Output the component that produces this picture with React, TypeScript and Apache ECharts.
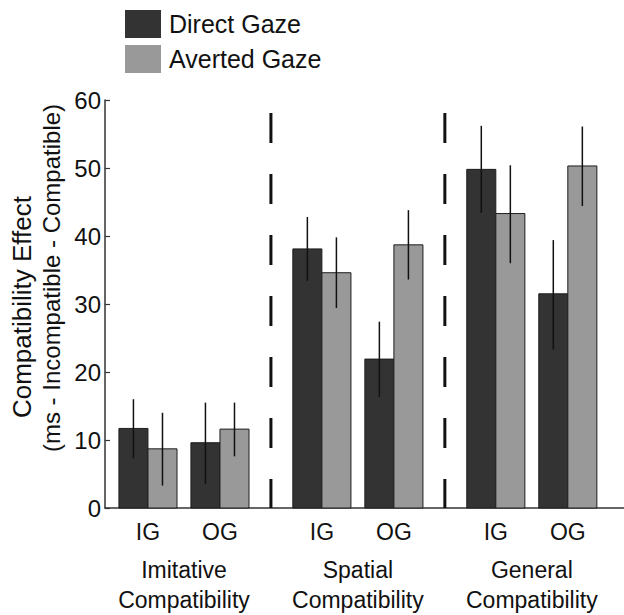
import React, { useEffect, useRef } from "react";
import * as echarts from "echarts";

// ---- data ----
const subLabels = ["IG", "OG", "IG", "OG", "IG", "OG"];
const subPositions = [-0.207, 0.207, 0.793, 1.207, 1.793, 2.207];
const groupLabels = ["Imitative\nCompatibility", "Spatial\nCompatibility", "General\nCompatibility"];
const groupPositions = [0, 1, 2];
const dividerPositions = [0.5, 1.5];

const directMean = [11.7, 9.6, 38.1, 21.9, 49.8, 31.5];
const directLow = [7.3, 3.5, 33.4, 16.3, 43.4, 23.3];
const directHigh = [16.0, 15.5, 42.8, 27.4, 56.2, 39.4];

const avertedMean = [8.7, 11.6, 34.6, 38.7, 43.3, 50.3];
const avertedLow = [3.3, 7.6, 29.4, 33.6, 36.0, 44.4];
const avertedHigh = [14.0, 15.5, 39.8, 43.8, 50.4, 56.1];

const yTicks = [0, 10, 20, 30, 40, 50, 60];

const BAR_W = 0.167;
const X_MIN = -0.454;
const X_MAX = 2.53;
const DIVIDER_TOP = 58.1;

const FONT = "'Liberation Sans', Arial, Helvetica, sans-serif";
const TEXT = "#111111";

function barRender(fill: string) {
  return (params: any, api: any) => {
    const x = api.value(0);
    const v = api.value(1);
    const lo = api.value(2);
    const hi = api.value(3);
    const w = api.size([BAR_W, 0])[0];
    const top = api.coord([x, v]);
    const base = api.coord([x, 0]);
    const pLo = api.coord([x, lo]);
    const pHi = api.coord([x, hi]);
    return {
      type: "group",
      children: [
        {
          type: "rect",
          shape: { x: top[0] - w / 2, y: top[1], width: w, height: base[1] - top[1] },
          style: { fill, stroke: "#1e1e1e", lineWidth: 1 },
        },
        {
          type: "line",
          shape: { x1: pLo[0], y1: pLo[1], x2: pHi[0], y2: pHi[1] },
          style: { stroke: "#111111", lineWidth: 1.5 },
        },
      ],
    };
  };
}

export default function App() {
  const ref = useRef<HTMLDivElement>(null);

  useEffect(() => {
    if (!ref.current) return;
    const chart = echarts.init(ref.current, undefined, { renderer: "svg" });

    const directData = subPositions.map((p, i) => [p - BAR_W / 2, directMean[i], directLow[i], directHigh[i]]);
    const avertedData = subPositions.map((p, i) => [p + BAR_W / 2, avertedMean[i], avertedLow[i], avertedHigh[i]]);

    const findLabel = (v: number, pos: number[], labels: string[]) => {
      for (let i = 0; i < pos.length; i++) if (Math.abs(pos[i] - v) < 1e-6) return labels[i];
      return "";
    };

    chart.setOption({
      animation: false,
      backgroundColor: "#ffffff",
      textStyle: { fontFamily: FONT },
      legend: {
        orient: "vertical",
        left: 120,
        top: 5,
        itemWidth: 36,
        itemHeight: 28,
        itemGap: 7,
        textStyle: { fontSize: 25, color: TEXT, fontFamily: FONT, padding: [0, 0, 0, 3] },
        data: [
          { name: "Direct Gaze", icon: "rect", itemStyle: { color: "#333333", borderWidth: 0 } },
          { name: "Averted Gaze", icon: "rect", itemStyle: { color: "#999999", borderWidth: 0 } },
        ],
      },
      graphic: [
        {
          type: "text",
          x: 22,
          y: 307,
          rotation: Math.PI / 2,
          style: {
            text: "Compatibility Effect",
            fontSize: 26,
            fontFamily: FONT,
            fill: TEXT,
            align: "center",
            verticalAlign: "middle",
          },
        },
        {
          type: "text",
          x: 51,
          y: 278,
          rotation: Math.PI / 2,
          style: {
            text: "(ms - Incompatible - Compatible)",
            fontSize: 24,
            fontFamily: FONT,
            fill: TEXT,
            align: "center",
            verticalAlign: "middle",
          },
        },
      ],
      grid: { left: 105, right: 0, top: 100, bottom: 105, containLabel: false },
      xAxis: [
        {
          type: "value",
          min: X_MIN,
          max: X_MAX,
          axisLine: { show: true, onZero: false, lineStyle: { color: "#333333", width: 1.5 } },
          axisTick: { show: false },
          splitLine: { show: false },
          axisLabel: {
            customValues: subPositions,
            formatter: (v: number) => findLabel(v, subPositions, subLabels),
            fontSize: 23,
            color: TEXT,
            margin: 12,
            fontFamily: FONT,
          },
        },
        {
          type: "value",
          position: "bottom",
          min: X_MIN,
          max: X_MAX,
          axisLine: { show: false, onZero: false },
          axisTick: { show: false },
          splitLine: { show: false },
          axisLabel: {
            customValues: groupPositions,
            formatter: (v: number) => findLabel(v, groupPositions, groupLabels),
            fontSize: 23,
            lineHeight: 30,
            color: TEXT,
            margin: 47,
            fontFamily: FONT,
          },
        },
      ],
      yAxis: {
        type: "value",
        min: 0,
        max: 60,
        interval: 10,
        axisLine: { show: true, onZero: false, lineStyle: { color: "#333333", width: 1.5 } },
        axisTick: { show: true, inside: true, length: 5, lineStyle: { color: "#333333", width: 1.2 } },
        splitLine: { show: false },
        axisLabel: {
          fontSize: 24,
          color: TEXT,
          margin: 4,
          fontFamily: FONT,
          formatter: (v: number) => (yTicks.indexOf(v) >= 0 ? String(v) : ""),
        },
      },
      series: [
        {
          name: "Direct Gaze",
          type: "custom",
          xAxisIndex: 0,
          itemStyle: { color: "#333333" },
          renderItem: barRender("#333333"),
          encode: { x: 0, y: 1 },
          data: directData,
          z: 2,
        },
        {
          name: "Averted Gaze",
          type: "custom",
          xAxisIndex: 0,
          itemStyle: { color: "#999999" },
          renderItem: barRender("#999999"),
          encode: { x: 0, y: 1 },
          data: avertedData,
          z: 2,
        },
        {
          name: "dividers",
          type: "custom",
          xAxisIndex: 0,
          silent: true,
          encode: { x: 0, y: 1 },
          data: dividerPositions.map((p) => [p, DIVIDER_TOP]),
          renderItem: (params: any, api: any) => {
            const x = api.value(0);
            const t = api.coord([x, api.value(1)]);
            const b = api.coord([x, 0]);
            return {
              type: "line",
              shape: { x1: t[0], y1: t[1], x2: b[0], y2: b[1] },
              style: { stroke: "#111111", lineWidth: 3, lineDash: [30, 31] },
            };
          },
          z: 1,
        },
      ],
    });

    return () => chart.dispose();
  }, []);

  return (
    <div
      ref={ref}
      style={{ position: "absolute", left: 0, top: 0, width: 624, height: 615 }}
    />
  );
}
